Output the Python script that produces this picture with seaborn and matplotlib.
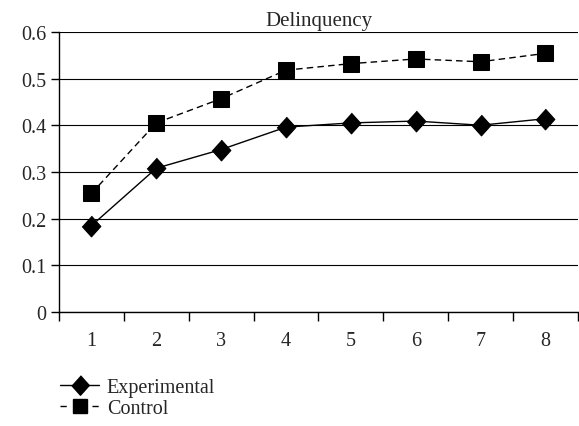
import matplotlib
matplotlib.use("Agg")
import matplotlib.pyplot as plt
import seaborn as sns
import pandas as pd
import numpy as np
from matplotlib.lines import Line2D

waves = [1, 2, 3, 4, 5, 6, 7, 8]
experimental = [0.185, 0.308, 0.348, 0.396, 0.405, 0.409, 0.400, 0.414]
control = [0.254, 0.405, 0.457, 0.518, 0.532, 0.542, 0.536, 0.554]
y_ticks = [0, 0.1, 0.2, 0.3, 0.4, 0.5, 0.6]
y_tick_labels = ["0", "0.1", "0.2", "0.3", "0.4", "0.5", "0.6"]

sns.set_style("white")
plt.rcParams['font.family'] = ['Liberation Serif', 'DejaVu Serif']

df = pd.DataFrame({
    "wave": waves * 2,
    "value": experimental + control,
    "group": ["Experimental"] * len(waves) + ["Control"] * len(waves),
})

diamond = [(0, 1), (0.9, 0), (0, -1), (-0.9, 0)]

fig = plt.figure(figsize=(5.79, 4.27), dpi=100)
ax = fig.add_axes([0.102, 0.267, 0.896, 0.656])

sns.lineplot(data=df, x="wave", y="value", hue="group", style="group",
             palette={"Experimental": "black", "Control": "black"},
             markers={"Experimental": diamond, "Control": "s"},
             dashes={"Experimental": "", "Control": (4.7, 3)},
             markersize=11, linewidth=1.0, ax=ax, legend=False,
             markeredgecolor="black")

for line in ax.lines:
    if line.get_marker() == "s":
        line.set_markersize(11)
    else:
        line.set_markersize(15)

ax.set_xlim(0.5, 8.5)
ax.set_ylim(0, 0.6)
ax.set_yticks(y_ticks)
ax.set_yticklabels(y_tick_labels)
ax.set_xticks(waves)
ax.set_xticklabels([str(w) for w in waves])
ax.set_xticks(np.arange(0.5, 9.0, 1.0), minor=True)
ax.tick_params(axis="x", which="major", length=0, pad=14, labelsize=14.5)
ax.tick_params(axis="x", which="minor", length=6.5, width=1, direction="out", color="black", bottom=True)
ax.tick_params(axis="y", which="major", length=6, width=1, direction="out", color="black", left=True, labelsize=14.5, pad=3)

ax.yaxis.grid(True, color="black", linewidth=0.8)
ax.set_axisbelow(True)
for s in ["top", "right"]:
    ax.spines[s].set_visible(False)
for s in ["left", "bottom"]:
    ax.spines[s].set_color("black")
    ax.spines[s].set_linewidth(1.0)

ax.set_xlabel("")
ax.set_ylabel("")
ax.set_title("Delinquency", fontsize=15, pad=5)

handles = [
    Line2D([], [], color="black", marker=diamond, markersize=14, linewidth=1.0),
    Line2D([], [], color="black", marker="s", markersize=10, linewidth=1.0,
           linestyle=(0, (4.5, 4.5, 9.5, 4.5))),
]
fig.legend(handles, ["Experimental", "Control"], loc="upper left",
           bbox_to_anchor=(0.073, 0.155), frameon=False, fontsize=14.5,
           handlelength=1.9, handletextpad=0.4, labelspacing=0.1)

fig.savefig("out.png", dpi=100)
